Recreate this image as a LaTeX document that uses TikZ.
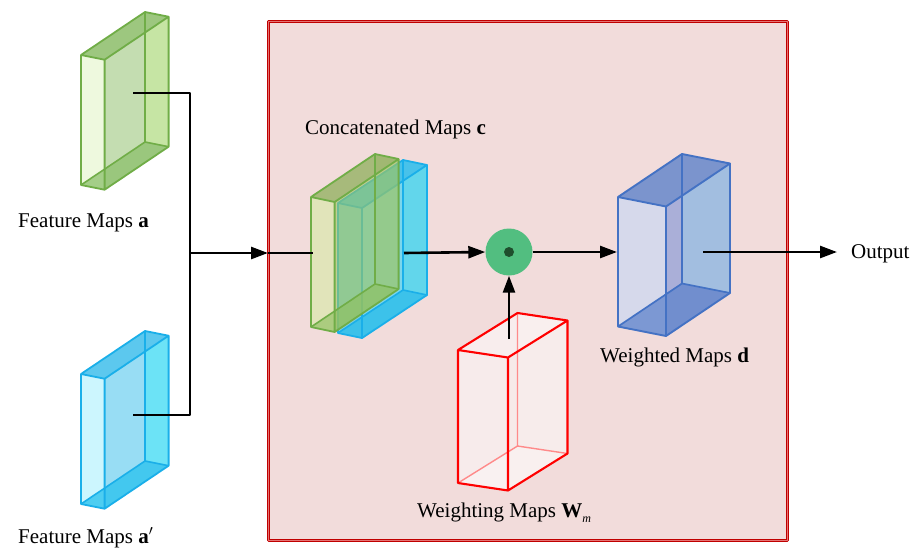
\documentclass[tikz,border=0pt]{standalone}
\usepackage{fontspec}
\setmainfont{Liberation Serif}
\usetikzlibrary{arrows.meta}
\definecolor{regfill}{HTML}{F2DCDB}
\definecolor{regdark}{HTML}{C00000}
\definecolor{reglight}{HTML}{E57373}
% green a
\definecolor{gaedge}{HTML}{70AD47}
\definecolor{gafront}{HTML}{EEF9DE}
\definecolor{gaside}{HTML}{C4DDB1}
\definecolor{gaback}{HTML}{C6E5A4}
\definecolor{gatop}{HTML}{9DC77F}
\definecolor{gabot}{HTML}{8CC06C}
% cyan
\definecolor{cyedge}{HTML}{1AAFE9}
\definecolor{cyfront}{HTML}{CCF6FE}
\definecolor{cyside}{HTML}{98DDF4}
\definecolor{cyback}{HTML}{6CE3F6}
\definecolor{cytop}{HTML}{5CC8EE}
\definecolor{cybot}{HTML}{2EC3EE}
\definecolor{cycfront}{HTML}{7CCFE0}
\definecolor{cycside}{HTML}{7BD6EC}
\definecolor{cycback}{HTML}{62D6EB}
\definecolor{cyctop}{HTML}{48C2EA}
\definecolor{cycbot}{HTML}{36C0EA}
% green c (translucent)
\definecolor{gcfront}{HTML}{DBE8AC}
\definecolor{gcside}{HTML}{A0C660}
\definecolor{gctop}{HTML}{80A848}
\definecolor{gcbot}{HTML}{8FC060}
% blue
\definecolor{bdedge}{HTML}{4472C4}
\definecolor{bdfront}{HTML}{D6D9EB}
\definecolor{bdside}{HTML}{AAAFD8}
\definecolor{bdback}{HTML}{A2BEE0}
\definecolor{bdtop}{HTML}{7B94CD}
\definecolor{bdbot}{HTML}{5F83CB}
% red
\definecolor{rwedge}{HTML}{FF0000}
\definecolor{rwhid}{HTML}{FF8A8A}
% dot
\definecolor{dotfill}{HTML}{52BE80}
\definecolor{dotcore}{HTML}{1F4E2D}

\tikzset{
  ga front/.style={fill=gafront}, ga side/.style={fill=gaside}, ga back/.style={fill=gaback},
  ga top/.style={fill=gatop}, ga bot/.style={fill=gabot, fill opacity=0.75},
  ga edge/.style={draw=gaedge, line width=1.8}, ga hid/.style={draw=gaedge, line width=1.6},
  cy front/.style={fill=cyfront}, cy side/.style={fill=cyside}, cy back/.style={fill=cyback},
  cy top/.style={fill=cytop}, cy bot/.style={fill=cybot, fill opacity=0.8},
  cy edge/.style={draw=cyedge, line width=1.8}, cy hid/.style={draw=cyedge, line width=1.6},
  cyc front/.style={fill=cycfront}, cyc side/.style={fill=cycside}, cyc back/.style={fill=cycback},
  cyc top/.style={fill=cyctop}, cyc bot/.style={fill=cycbot, fill opacity=0.9},
  cyc edge/.style={draw=cyedge, line width=1.8}, cyc hid/.style={draw=cyedge, line width=1.6},
  gc front/.style={fill=gcfront, fill opacity=0.7}, gc side/.style={fill=gcside, fill opacity=0.6},
  gc back/.style={fill=gcside, fill opacity=0.2},
  gc top/.style={fill=gctop, fill opacity=0.65}, gc bot/.style={fill=gcbot, fill opacity=0.65},
  gc edge/.style={draw=gaedge, line width=1.8}, gc hid/.style={draw=gaedge, line width=1.6},
  bd front/.style={fill=bdfront}, bd side/.style={fill=bdside}, bd back/.style={fill=bdback},
  bd top/.style={fill=bdtop}, bd bot/.style={fill=bdbot, fill opacity=0.75},
  bd edge/.style={draw=bdedge, line width=1.9}, bd hid/.style={draw=bdedge, line width=1.7},
  rw front/.style={fill=white, fill opacity=0.45}, rw side/.style={fill=white, fill opacity=0.4},
  rw back/.style={fill=white, fill opacity=0.1},
  rw top/.style={fill=white, fill opacity=0.5}, rw bot/.style={fill=white, fill opacity=0.3},
  rw edge/.style={draw=rwedge, line width=2.1}, rw hid/.style={draw=rwhid, line width=1.4},
  conn/.style={draw=black, line width=1.8},
  arr/.style={draw=black, line width=2.6, -{Triangle[length=17,width=12]}},
  lbl/.style={font=\fontsize{21}{25}\selectfont, inner sep=0, anchor=base west},
}

% #1 name, #2 x0, #3 y0, #4 wx, #5 wy, #6 dx, #7 dy, #8 h, #9 style prefix
\newcommand\mycuboid[9]{%
  \begin{scope}[shift={(#2,#3)}]
    \coordinate (#1-A) at (0,0);
    \coordinate (#1-B) at (#4,#5);
    \coordinate (#1-C) at ({#4+#6},{#5+#7});
    \coordinate (#1-E) at (#6,#7);
    \coordinate (#1-a) at (0,#8);
    \coordinate (#1-b) at (#4,{#5+#8});
    \coordinate (#1-c) at ({#4+#6},{#5+#7+#8});
    \coordinate (#1-e) at (#6,{#7+#8});
  \end{scope}
  \path[#9 side] (#1-B) -- (#1-C) -- (#1-c) -- (#1-b) -- cycle;
  \path[#9 back] (#1-E) -- (#1-C) -- (#1-c) -- (#1-e) -- cycle;
  \path[#9 top] (#1-A) -- (#1-B) -- (#1-C) -- (#1-E) -- cycle;
  \path[#9 front] (#1-A) -- (#1-B) -- (#1-b) -- (#1-a) -- cycle;
  \path[#9 bot] (#1-a) -- (#1-b) -- (#1-c) -- (#1-e) -- cycle;
  \draw[#9 hid] (#1-E) -- (#1-e) (#1-a) -- (#1-e) -- (#1-c);
  \draw[#9 edge] (#1-A) -- (#1-B) -- (#1-C) -- (#1-E) -- cycle
    (#1-A) -- (#1-a) -- (#1-b) -- (#1-c) -- (#1-C) (#1-B) -- (#1-b);
}

\begin{document}
\begin{tikzpicture}[x=1pt,y=-1pt,line join=round]
\useasboundingbox (0,0) rectangle (913,547);

% module region
\node[draw=regdark, double=reglight, double distance=1pt, line width=0.9pt, fill=regfill,
      minimum width=519, minimum height=519, inner sep=0, anchor=north west] (mod) at (268,21) {};

% cuboids
\mycuboid{fa}{81}{55}{23.6}{4.7}{64}{-43}{130}{ga}
\mycuboid{fb}{81}{374}{23.6}{4.7}{64}{-43}{130}{cy}
\mycuboid{cc}{338}{203}{24}{5}{65}{-43}{130}{cyc}
\mycuboid{cg}{311}{197}{23.6}{5}{64}{-43}{130}{gc}
\mycuboid{wd}{618}{197}{48}{9.5}{64}{-43}{129.5}{bd}
\mycuboid{wm}{458}{350}{50}{7.5}{59.5}{-37}{133}{rw}

% dot product
\node[circle, fill=dotfill, minimum size=47, inner sep=0] (dot) at (509,252) {};
\node[circle, fill=dotcore, minimum size=10, inner sep=0] (dotc) at (dot) {};

% connector coordinates
\coordinate (aC) at (133,93);
\coordinate (bC) at (133,415);
\coordinate (jn) at (190,253);
\coordinate (cIn) at (313,253);
\coordinate (cOut) at (404,253);
\coordinate (wmT) at (509,339);
\coordinate (dIn) at (617,252);
\coordinate (dOut) at (703,252);

% labels
\node[lbl] (la) at (18,227) {Feature Maps \textbf{a}};
\node[lbl] (lb) at (18,543) {Feature Maps \textbf{a}$'$};
\node[lbl] (lc) at (305,134) {Concatenated Maps \textbf{c}};
\node[lbl] (ld) at (600,362.5) {Weighted Maps \textbf{d}};
\node[lbl] (lw) at (417,517) {Weighting Maps \textbf{W}\raisebox{-5pt}{\fontsize{12}{12}\selectfont\itshape m}};
\node[lbl] (out) at (851,258) {Output};

% connectors
\draw[conn] (aC) -| (jn);
\draw[conn] (bC) -| (jn);
\draw[arr] (jn) -- (jn -| mod.west);
\draw[conn] (jn -| mod.west) -- (cIn);
\draw[arr] (cOut) -- (dot.west);
\draw[arr] (wmT) -- (dot.south);
\draw[arr] (dot.east) -- (dIn);
\draw[arr] (dOut) -- ([xshift=-14pt]out.west |- dOut);
\end{tikzpicture}
\end{document}
